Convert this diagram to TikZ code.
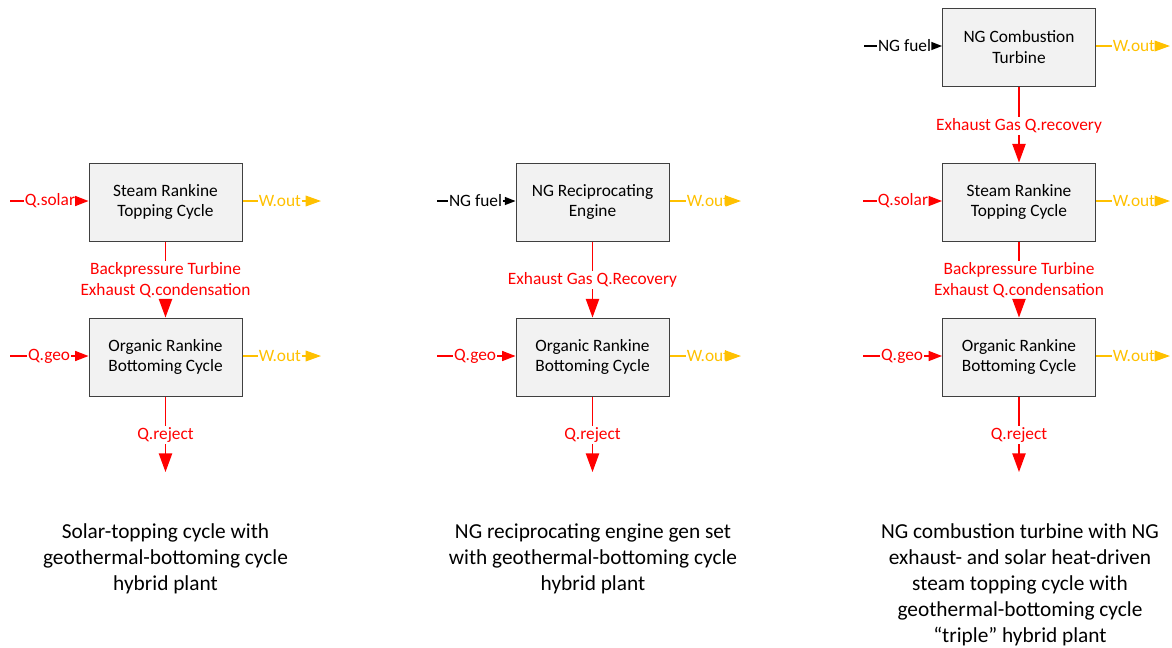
\documentclass[tikz,border=0pt]{standalone}
\usepackage{fontspec}
\setmainfont{Carlito}
\usetikzlibrary{arrows.meta}
\definecolor{cred}{HTML}{FF0000}
\definecolor{corange}{HTML}{FFC000}
\definecolor{cfill}{HTML}{F2F2F2}
\definecolor{cborder}{HTML}{404040}
\begin{document}
\begin{tikzpicture}[x=0.75pt,y=-0.75pt,
  cycbox/.style={draw=cborder,line width=0.75pt,fill=cfill,minimum width=114.75pt,minimum height=58.5pt,align=center,font=\fontsize{13}{15.5}\selectfont,inner sep=0pt},
  lab/.style={font=\fontsize{13}{15.5}\selectfont,inner xsep=0.5pt,inner ysep=1pt,align=center},
  redlab/.style={lab,text=cred},
  orlab/.style={lab,text=corange},
  blklab/.style={lab,text=black},
  redln/.style={draw=cred,line width=1pt},
  orln/.style={draw=corange,line width=1pt},
  blkln/.style={draw=black,line width=1pt},
  redin/.style={redln,-{Triangle[width=7.5pt,length=10pt]}},
  orout/.style={orln,-{Triangle[width=8pt,length=11.5pt]}},
  blkin/.style={blkln,-{Triangle[width=6pt,length=8pt]}},
  vert/.style={redln,-{Triangle[width=10pt,length=14pt]}},
  caption/.style={font=\fontsize{16}{19.5}\selectfont,align=center,inner sep=0pt,anchor=north}
]
\useasboundingbox (0,0) rectangle (1172,647);

% ---------------- Left column ----------------
\node[cycbox] (Ls) at (165.5,202) {Steam Rankine\\Topping Cycle};
\node[cycbox] (Lo) at (165.5,357) {Organic Rankine\\Bottoming Cycle};
\node[redlab,anchor=east] (Lqs) at (76,201) {Q.solar};
\coordinate (Lqs0) at (10,201);
\draw[redln] (Lqs0) -- (Lqs.west);
\draw[redin] (Lqs.east) -- (Ls.west |- Lqs.east);
\node[orlab,anchor=west] (Lw1) at (258,201) {W.out};
\coordinate (Lw1e) at (321,201);
\draw[orln] (Ls.east |- Lw1.west) -- (Lw1.west);
\draw[orout] (Lw1.east) -- (Lw1e);
\node[redlab] (Lm) at (165.5,280) {Backpressure Turbine\\Exhaust Q.condensation};
\draw[redln] (Ls.south) -- (Lm.north);
\draw[vert] (Lm.south) -- (Lo.north);
\node[redlab,anchor=east] (Lqg) at (71,356) {Q.geo};
\coordinate (Lqg0) at (10,356);
\draw[redln] (Lqg0) -- (Lqg.west);
\draw[redin] (Lqg.east) -- (Lo.west |- Lqg.east);
\node[orlab,anchor=west] (Lw2) at (258,356) {W.out};
\coordinate (Lw2e) at (321,356);
\draw[orln] (Lo.east |- Lw2.west) -- (Lw2.west);
\draw[orout] (Lw2.east) -- (Lw2e);
\node[redlab] (Lr) at (165.5,435) {Q.reject};
\coordinate (Lre) at (165.5,472);
\draw[redln] (Lo.south) -- (Lr.north);
\draw[vert] (Lr.south) -- (Lre);
\node[caption] (Lc) at (165.5,523) {Solar-topping cycle with\\geothermal-bottoming cycle\\hybrid plant};

% ---------------- Center column ----------------
\node[cycbox] (Cs) at (592.5,202) {NG Reciprocating\\Engine};
\node[cycbox] (Co) at (592.5,357) {Organic Rankine\\Bottoming Cycle};
\node[blklab,anchor=east] (Cf) at (503,201) {NG fuel};
\coordinate (Cf0) at (437,201);
\draw[blkln] (Cf0) -- (Cf.west);
\draw[blkin] (Cf.east) -- (Cs.west |- Cf.east);
\node[orlab,anchor=west] (Cw1) at (686,201) {W.out};
\coordinate (Cw1e) at (741,201);
\draw[orln] (Cs.east |- Cw1.west) -- (Cw1.west);
\draw[orout] (Cw1.east) -- (Cw1e);
\node[redlab] (Cm) at (592.5,280) {Exhaust Gas Q.Recovery};
\draw[redln] (Cs.south) -- (Cm.north);
\draw[vert] (Cm.south) -- (Co.north);
\node[redlab,anchor=east] (Cqg) at (497,356) {Q.geo};
\coordinate (Cqg0) at (437,356);
\draw[redln] (Cqg0) -- (Cqg.west);
\draw[redin] (Cqg.east) -- (Co.west |- Cqg.east);
\node[orlab,anchor=west] (Cw2) at (686,356) {W.out};
\coordinate (Cw2e) at (741,356);
\draw[orln] (Co.east |- Cw2.west) -- (Cw2.west);
\draw[orout] (Cw2.east) -- (Cw2e);
\node[redlab] (Cr) at (592.5,435) {Q.reject};
\coordinate (Cre) at (592.5,472);
\draw[redln] (Co.south) -- (Cr.north);
\draw[vert] (Cr.south) -- (Cre);
\node[caption] (Cc) at (593,523) {NG reciprocating engine gen set\\with geothermal-bottoming cycle\\hybrid plant};

% ---------------- Right column ----------------
\node[cycbox] (Rt) at (1019,47) {NG Combustion\\Turbine};
\node[cycbox] (Rs) at (1019,202) {Steam Rankine\\Topping Cycle};
\node[cycbox] (Ro) at (1019,357) {Organic Rankine\\Bottoming Cycle};
\node[blklab,anchor=east] (Rf) at (932,46) {NG fuel};
\coordinate (Rf0) at (864,46);
\draw[blkln] (Rf0) -- (Rf.west);
\draw[blkin] (Rf.east) -- (Rt.west |- Rf.east);
\node[orlab,anchor=west] (Rw0) at (1112,46) {W.out};
\coordinate (Rw0e) at (1170,46);
\draw[orln] (Rt.east |- Rw0.west) -- (Rw0.west);
\draw[orout] (Rw0.east) -- (Rw0e);
\node[redlab] (Rm0) at (1019,126) {Exhaust Gas Q.recovery};
\draw[redln] (Rt.south) -- (Rm0.north);
\draw[vert] (Rm0.south) -- (Rs.north);
\node[redlab,anchor=east] (Rqs) at (929,201) {Q.solar};
\coordinate (Rqs0) at (863,201);
\draw[redln] (Rqs0) -- (Rqs.west);
\draw[redin] (Rqs.east) -- (Rs.west |- Rqs.east);
\node[orlab,anchor=west] (Rw1) at (1112,201) {W.out};
\coordinate (Rw1e) at (1170,201);
\draw[orln] (Rs.east |- Rw1.west) -- (Rw1.west);
\draw[orout] (Rw1.east) -- (Rw1e);
\node[redlab] (Rm) at (1019,280) {Backpressure Turbine\\Exhaust Q.condensation};
\draw[redln] (Rs.south) -- (Rm.north);
\draw[vert] (Rm.south) -- (Ro.north);
\node[redlab,anchor=east] (Rqg) at (924,356) {Q.geo};
\coordinate (Rqg0) at (863,356);
\draw[redln] (Rqg0) -- (Rqg.west);
\draw[redin] (Rqg.east) -- (Ro.west |- Rqg.east);
\node[orlab,anchor=west] (Rw2) at (1112,356) {W.out};
\coordinate (Rw2e) at (1170,356);
\draw[orln] (Ro.east |- Rw2.west) -- (Rw2.west);
\draw[orout] (Rw2.east) -- (Rw2e);
\node[redlab] (Rr) at (1019,435) {Q.reject};
\coordinate (Rre) at (1019,472);
\draw[redln] (Ro.south) -- (Rr.north);
\draw[vert] (Rr.south) -- (Rre);
\node[caption] (Rc) at (1020,523) {NG combustion turbine with NG\\exhaust- and solar heat-driven\\steam topping cycle with\\geothermal-bottoming cycle\\“triple” hybrid plant};
\end{tikzpicture}
\end{document}
